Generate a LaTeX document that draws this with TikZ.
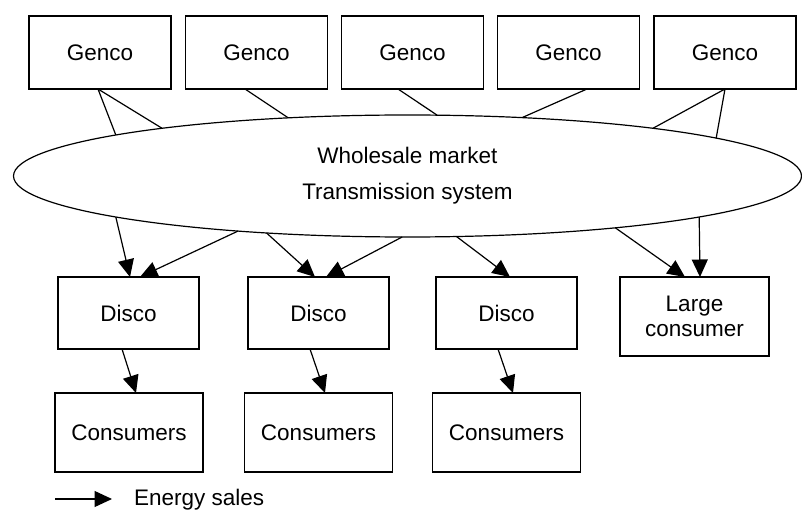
\documentclass[tikz,border=0pt]{standalone}
\usepackage{fontspec}
\setmainfont{Liberation Sans}
\usetikzlibrary{arrows.meta,shapes.geometric}
\begin{document}
\begin{tikzpicture}[x=1pt,y=-1pt,
  txt/.style={font=\fontsize{22.5}{25}\selectfont},
  box/.style={txt,draw,line width=1.2pt,inner sep=0pt,outer sep=0pt,align=center},
  genbox/.style={box,minimum width=142pt,minimum height=73pt},
  discobox/.style={box,minimum width=141pt,minimum height=72pt},
  consbox/.style={box,minimum width=148pt,minimum height=79pt},
  link/.style={line width=1.2pt},
  flow/.style={line width=1.2pt,-{Triangle[length=17.5pt,width=16pt]}}]
\useasboundingbox (0,0) rectangle (802,510);

% generating companies
\node[genbox] (g1) at (100,52.5) {Genco};
\node[genbox] (g2) at (256.5,52.5) {Genco};
\node[genbox] (g3) at (412.5,52.5) {Genco};
\node[genbox] (g4) at (568.5,52.5) {Genco};
\node[genbox] (g5) at (725,52.5) {Genco};

% market / grid
\node[txt,ellipse,draw,line width=1.2pt,minimum width=788pt,minimum height=122pt,
      inner sep=0pt,outer sep=0pt,align=center] (mkt) at (407.5,176)
      {Wholesale market\\[11pt]Transmission system};

% distribution companies and large consumer
\node[discobox] (d1) at (128.5,313) {Disco};
\node[discobox] (d2) at (318.5,313) {Disco};
\node[discobox] (d3) at (506.5,313) {Disco};
\node[box,minimum width=149pt,minimum height=79pt] (lc) at (694.5,316.5) {Large\\consumer};

% retail consumers
\node[consbox] (c1) at (129,432.5) {Consumers};
\node[consbox] (c2) at (318.5,432.5) {Consumers};
\node[consbox] (c3) at (506.5,432.5) {Consumers};

% gencos into the market
\draw[link] ([xshift=-2pt]g1.south) -- (mkt.172.6);
\draw[link] ([xshift=-2pt]g1.south) -- (mkt.169.9);
\draw[link] ([xshift=-11.5pt]g2.south) -- (mkt.154.7);
\draw[link] ([xshift=-14.5pt]g3.south) -- (mkt.64.6);
\draw[link] ([xshift=18.5pt]g4.south) -- (mkt.27.4);
\draw[link] (g5.south) -- (mkt.11.6);
\draw[link] (g5.south) -- (mkt.7.1);

% market out to buyers
\draw[flow] (mkt.188.3) -- ([xshift=1.5pt]d1.north);
\draw[flow] (mkt.198.4) -- ([xshift=11.5pt]d1.north);
\draw[flow] (mkt.202) -- ([xshift=-3.5pt]d2.north);
\draw[flow] (mkt.265.6) -- ([xshift=7.5pt]d2.north);
\draw[flow] (mkt.309.3) -- ([xshift=3.5pt]d3.north);
\draw[flow] (mkt.346.2) -- ([xshift=-9.5pt]lc.north);
\draw[flow] (mkt.352) -- ([xshift=5.5pt]lc.north);

% discos to consumers
\draw[flow] ([xshift=-6.5pt]d1.south) -- ([xshift=7pt]c1.north);
\draw[flow] ([xshift=-8.5pt]d2.south) -- ([xshift=6.5pt]c2.north);
\draw[flow] ([xshift=-8.5pt]d3.south) -- ([xshift=6.5pt]c3.north);

% legend
\coordinate (lgA) at (55,499);
\coordinate (lgB) at (112,499);
\draw[flow] (lgA) -- (lgB);
\node[txt,anchor=base west,inner sep=0pt] (lgT) at (134,505) {Energy sales};
\end{tikzpicture}
\end{document}
